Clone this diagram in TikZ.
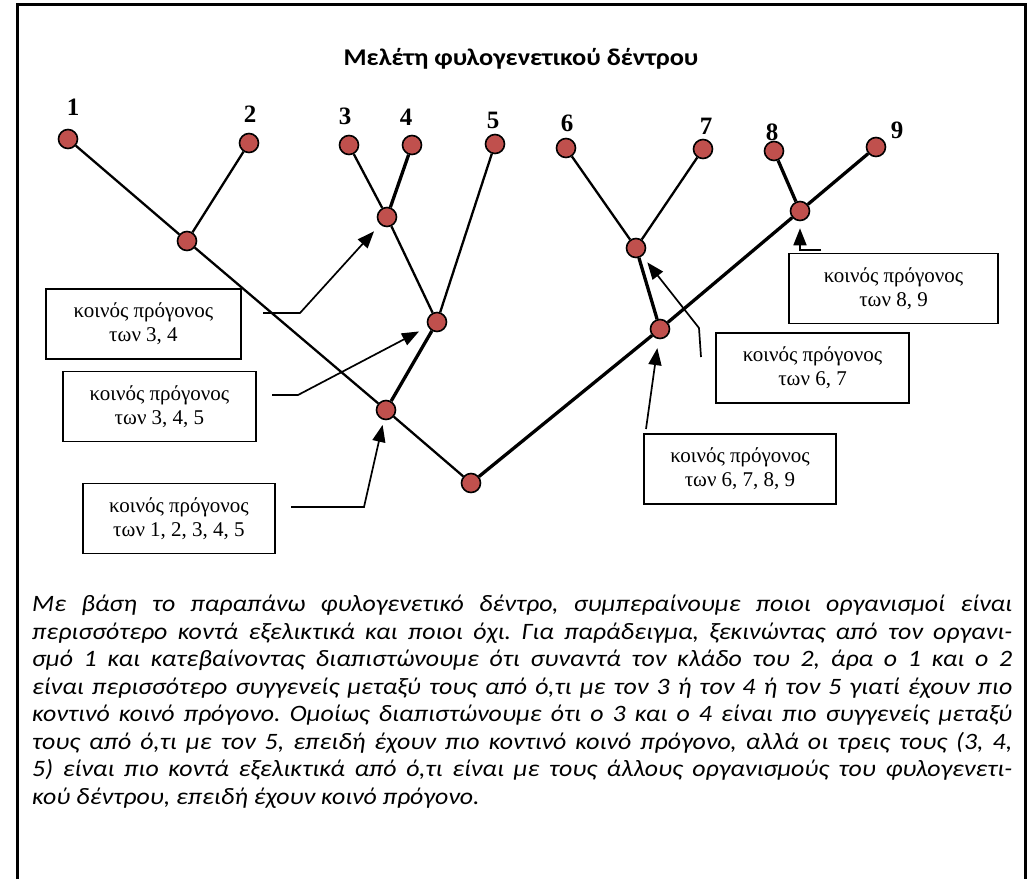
\documentclass[tikz,border=0pt]{standalone}
\usepackage{fontspec}
\setmainfont{Liberation Serif}
\newfontfamily\calfont[FakeStretch=1.1]{Carlito}
\usetikzlibrary{arrows.meta}

\definecolor{nodered}{HTML}{C0504D}

\tikzset{
  taxon/.style={circle, draw=black, line width=1.6pt, fill=nodered, minimum size=19pt, inner sep=0pt},
  leafnum/.style={font=\fontsize{25}{25}\selectfont\bfseries, anchor=base, inner sep=0pt},
  branch/.style={line width=2.3pt},
  mainbranch/.style={line width=3.3pt},
  infobox/.style={draw, line width=1.5pt, align=center, minimum width=#1, minimum height=70pt, inner sep=0pt, font=\fontsize{21}{24}\selectfont},
  infobox/.default=193pt,
  callout/.style={-{Triangle[length=17pt,width=13pt]}, line width=1.7pt},
}

\begin{document}
\frenchspacing
\begin{tikzpicture}[x=1pt, y=-1pt]
      \useasboundingbox (0,0) rectangle (1034,879);
      \draw[line width=3pt] (17,879) -- (17,4) -- (1025,4) -- (1025,879);

      \node[font=\calfont\bfseries\fontsize{24}{24}\selectfont, anchor=base] (title) at (521,65) {Μελέτη φυλογενετικού δέντρου};

      % the tree
      \foreach \name/\x/\y in {l1/68/139, l2/249/143, l3/349/145, l4/412/145, l5/495/144,
                               l6/566/148, l7/703/149, l8/774/151, l9/876/147,
                               a12/187/241, a34/387/217, a345/437/322, a12345/386/410, root/471/483,
                               a67/636/248, a89/800/211, a6789/660/329} {
          \node[taxon] (\name) at (\x,\y) {};
      }
      \foreach \i/\x/\y in {1/73/115, 2/250/122, 3/345/124, 4/406/125, 5/493/128,
                            6/567/131, 7/706/134, 8/772/140, 9/897/138} {
          \node[leafnum] (num\i) at (\x,\y) {\i};
      }
      \foreach \a/\b in {l1/a12, l2/a12, a12/a12345, a12345/root, l3/a34, a34/a345, l5/a345, l6/a67, l7/a67} {
          \draw[branch] (\a) -- (\b);
      }
      \foreach \a/\b in {l4/a34, a345/a12345, root/a6789, a6789/a67, a6789/a89, l8/a89, l9/a89} {
          \draw[mainbranch] (\a) -- (\b);
      }

      % labels for the common ancestors
      \node[infobox=195pt] (box34) at (143.5,324) {κοινός πρόγονος\\των 3, 4};
      \node[infobox] (box345) at (159.5,406.5) {κοινός πρόγονος\\των 3, 4, 5};
      \node[infobox=192pt] (box12345) at (179,518.5) {κοινός πρόγονος\\των 1, 2, 3, 4, 5};
      \node[infobox=209pt] (box89) at (893.5,288.5) {κοινός πρόγονος\\των 8, 9};
      \node[infobox] (box67) at (812.5,368) {κοινός πρόγονος\\των 6, 7};
      \node[infobox=192pt] (box6789) at (740,469) {κοινός πρόγονος\\των 6, 7, 8, 9};

      \coordinate (tail34) at (263,313);
      \coordinate (bend34) at (300,313);
      \coordinate (tail345) at (272,395);
      \coordinate (bend345) at (298,395);
      \coordinate (tail12345) at (291,507);
      \coordinate (bend12345) at (364,507);
      \coordinate (tail89) at (821,250);
      \coordinate (tail67) at (701,357);
      \coordinate (bend67) at (699,328);
      \coordinate (tail6789) at (646,429);

      \draw[callout, shorten >=9pt] (tail34) -- (bend34) -- (a34);
      \draw[callout, shorten >=10pt] (tail345) -- (bend345) -- (a345);
      \draw[callout, shorten >=5pt] (tail12345) -- (bend12345) -- (a12345);
      \draw[callout, shorten >=7pt] (tail89) -| (a89);
      \draw[callout, shorten >=8pt] (tail67) -- (bend67) -- (a67);
      \draw[callout, shorten >=9pt] (tail6789) -- (a6789);

      % the text under the tree
      \node[anchor=north west, inner sep=0pt, text width=980pt, align=justify,
            font=\calfont\itshape\fontsize{23.5}{27.5}\selectfont] (para) at (32,595) {%
        \fontsize{23.5}{27.5}\selectfont
        Με βάση το παραπάνω φυλογενετικό δέντρο, συμπεραίνουμε ποιοι οργανισμοί είναι\linebreak
        περισσότερο κοντά εξελικτικά και ποιοι όχι. Για παράδειγμα, ξεκινώντας από τον οργανι-\linebreak
        σμό 1 και κατεβαίνοντας διαπιστώνουμε ότι συναντά τον κλάδο του 2, άρα ο 1 και ο 2\linebreak
        είναι περισσότερο συγγενείς μεταξύ τους από ό,τι με τον 3 ή τον 4 ή τον 5 γιατί έχουν πιο\linebreak
        κοντινό κοινό πρόγονο. Ομοίως διαπιστώνουμε ότι ο 3 και ο 4 είναι πιο συγγενείς μεταξύ\linebreak
        τους από ό,τι με τον 5, επειδή έχουν πιο κοντινό κοινό πρόγονο, αλλά οι τρεις τους (3, 4,\linebreak
        5) είναι πιο κοντά εξελικτικά από ό,τι είναι με τους άλλους οργανισμούς του φυλογενετι-\linebreak
        κού δέντρου, επειδή έχουν κοινό πρόγονο.\par};
    \end{tikzpicture}
\end{document}
